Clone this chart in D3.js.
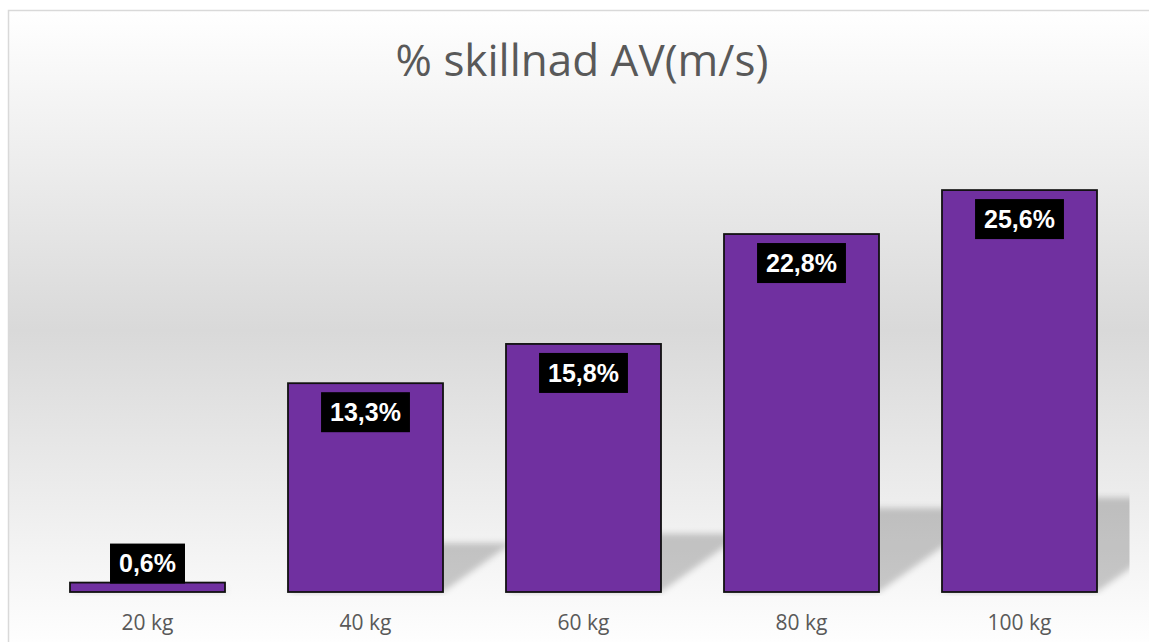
<!DOCTYPE html>
<html>
<head>
<meta charset="utf-8">
<script src="https://cdn.jsdelivr.net/npm/d3@7"></script>
<style>
  html, body { margin: 0; padding: 0; background: #fff; overflow: hidden; }
</style>
</head>
<body>
<div id="chart"></div>
<script>
// Data
const categories = ["20 kg", "40 kg", "60 kg", "80 kg", "100 kg"];
const values = [0.6, 13.3, 15.8, 22.8, 25.6];
const valueLabels = ["0,6%", "13,3%", "15,8%", "22,8%", "25,6%"];
const title = "% skillnad AV(m/s)";

const width = 1149, height = 642;
const plot = { left: 38.5, right: 1128.5, top: 121, bottom: 592 };

const svg = d3.select("#chart").append("svg")
    .attr("width", width)
    .attr("height", height);

const defs = svg.append("defs");

// background gradient (white -> gray -> white)
const grad = defs.append("linearGradient")
    .attr("id", "bg")
    .attr("x1", 0).attr("y1", 0).attr("x2", 0).attr("y2", 1);
grad.append("stop").attr("offset", "0%").attr("stop-color", "#ffffff");
grad.append("stop").attr("offset", "50%").attr("stop-color", "#d9d9d9");
grad.append("stop").attr("offset", "100%").attr("stop-color", "#ffffff");

const blur = defs.append("filter").attr("id", "soft")
    .attr("x", "-20%").attr("y", "-20%").attr("width", "140%").attr("height", "140%");
blur.append("feGaussianBlur").attr("stdDeviation", 3);

defs.append("clipPath").attr("id", "plotClip")
  .append("rect")
    .attr("x", plot.left).attr("y", 0)
    .attr("width", plot.right - plot.left + 1).attr("height", plot.bottom + 4);

// chart area
svg.append("rect")
    .attr("x", 8.5).attr("y", 10.5)
    .attr("width", 1160).attr("height", 640)
    .attr("fill", "url(#bg)")
    .attr("stroke", "#d9d9d9")
    .attr("stroke-width", 1.5);

// scales
const x = d3.scaleBand()
    .domain(categories)
    .range([plot.left, plot.right])
    .paddingInner(0.289)
    .paddingOuter(0.1445);

const y = d3.scaleLinear()
    .domain([0, 30])
    .range([plot.bottom, plot.top]);

// title
svg.append("text")
    .attr("x", 582)
    .attr("y", 76)
    .attr("text-anchor", "middle")
    .attr("font-family", "'Open Sans', sans-serif")
    .attr("font-size", 44)
    .attr("fill", "#595959")
    .text(title);

// perspective shadows
const shadowScale = 0.235, shadowSkew = 1.4;
const shadows = svg.append("g")
    .attr("clip-path", "url(#plotClip)")
  .append("g")
    .attr("filter", "url(#soft)");

shadows.selectAll("path")
  .data(values)
  .join("path")
    .attr("fill", "#000")
    .attr("fill-opacity", 0.2)
    .attr("d", (d, i) => {
        const x0 = x(categories[i]), x1 = x0 + x.bandwidth();
        const h = (y(0) - y(d)) * shadowScale;
        const dx = h * shadowSkew;
        const b = y(0);
        return `M${x0},${b}L${x1},${b}L${x1 + dx},${b - h}L${x0 + dx},${b - h}Z`;
    });

// bars
svg.append("g")
  .selectAll("rect")
  .data(values)
  .join("rect")
    .attr("x", (d, i) => x(categories[i]))
    .attr("y", d => y(d))
    .attr("width", x.bandwidth())
    .attr("height", d => y(0) - y(d))
    .attr("fill", "#7030a0")
    .attr("stroke", "#111")
    .attr("stroke-width", 1.8);

// x axis labels
const xAxis = svg.append("g")
    .attr("transform", `translate(0,${plot.bottom})`)
    .call(d3.axisBottom(x).tickSize(0).tickPadding(23));
xAxis.select(".domain").remove();
xAxis.selectAll("text")
    .attr("font-family", "'Open Sans', sans-serif")
    .attr("font-size", 21)
    .attr("fill", "#595959");

// data labels
const boxH = 40;
const labels = svg.append("g")
  .selectAll("g")
  .data(values)
  .join("g")
    .attr("transform", (d, i) => {
        const cx = x(categories[i]) + x.bandwidth() / 2;
        const barH = y(0) - y(d);
        const top = barH > boxH + 20 ? y(d) + 9 : y(d) + 1 - boxH;
        return `translate(${cx},${top})`;
    });

labels.append("text")
    .attr("x", 0)
    .attr("y", boxH / 2)
    .attr("dy", "0.35em")
    .attr("text-anchor", "middle")
    .attr("font-family", "'Liberation Sans', Arial, sans-serif")
    .attr("font-weight", "bold")
    .attr("font-size", 25)
    .attr("fill", "#fff")
    .text((d, i) => valueLabels[i]);

labels.each(function() {
    const g = d3.select(this);
    const w = g.select("text").node().getComputedTextLength() + 18;
    g.insert("rect", "text")
        .attr("x", -w / 2)
        .attr("y", 0)
        .attr("width", w)
        .attr("height", boxH)
        .attr("fill", "#000");
});
</script>
</body>
</html>
